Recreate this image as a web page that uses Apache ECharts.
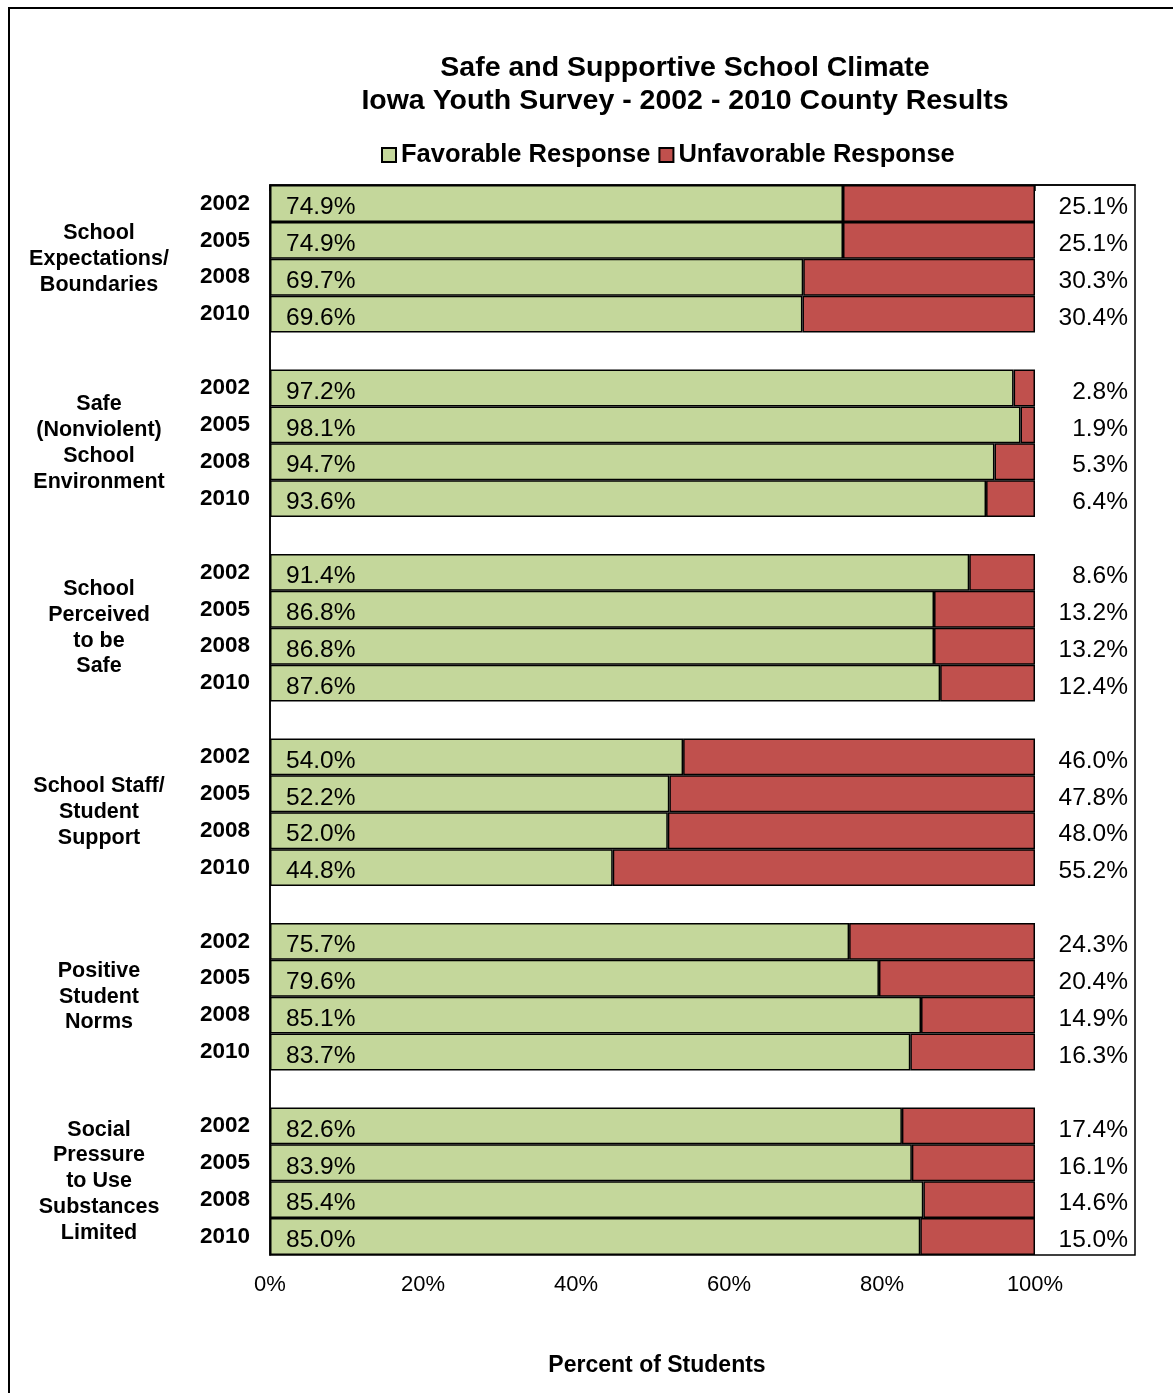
<!DOCTYPE html>
<html>
<head>
<meta charset="utf-8">
<script src="https://cdn.jsdelivr.net/npm/echarts@6/dist/echarts.min.js"></script>
<style>
  html, body { margin: 0; padding: 0; background: #fff; }
  #chart { position: absolute; left: 0; top: 0; width: 1173px; height: 1393px; }
  #frame { position: absolute; left: 8px; top: 7px; width: 1300px; height: 1500px;
           border-left: 2px solid #000; border-top: 2px solid #000; pointer-events: none; }
</style>
</head>
<body>
<div id="chart"></div>
<div id="frame"></div>
<script>
const groups = [
  'School\nExpectations/\nBoundaries',
  'Safe\n(Nonviolent)\nSchool\nEnvironment',
  'School\nPerceived\nto be\nSafe',
  'School Staff/\nStudent\nSupport',
  'Positive\nStudent\nNorms',
  'Social\nPressure\nto Use\nSubstances\nLimited'
];
const years = ['2002', '2005', '2008', '2010'];
const favorable = [
  [74.9, 74.9, 69.7, 69.6],
  [97.2, 98.1, 94.7, 93.6],
  [91.4, 86.8, 86.8, 87.6],
  [54.0, 52.2, 52.0, 44.8],
  [75.7, 79.6, 85.1, 83.7],
  [82.6, 83.9, 85.4, 85.0]
];
const unfavorable = [
  [25.1, 25.1, 30.3, 30.4],
  [2.8, 1.9, 5.3, 6.4],
  [8.6, 13.2, 13.2, 12.4],
  [46.0, 47.8, 48.0, 55.2],
  [24.3, 20.4, 14.9, 16.3],
  [17.4, 16.1, 14.6, 15.0]
];
const xTicks = [0, 20, 40, 60, 80, 100];

// Build rows (with an empty gap row between groups)
const rows = [], favData = [], unfData = [];
groups.forEach((g, gi) => {
  years.forEach((y, yi) => {
    rows.push(gi + '|' + y);
    favData.push(favorable[gi][yi]);
    unfData.push(unfavorable[gi][yi]);
  });
  if (gi < groups.length - 1) {
    rows.push('gap' + gi);
    favData.push('-');
    unfData.push('-');
  }
});
const nRows = rows.length;
const perGroup = years.length + 1;

const font = '"Liberation Sans", Arial, sans-serif';
const chart = echarts.init(document.getElementById('chart'));
chart.setOption({
  animation: false,
  backgroundColor: '#fff',
  textStyle: { fontFamily: font, color: '#000' },
  title: [
    {
      text: 'Safe and Supportive School Climate\nIowa Youth Survey - 2002 - 2010 County Results',
      left: 680, top: 47, textAlign: 'center',
      textStyle: { fontSize: 28.5, fontWeight: 'bold', lineHeight: 33, color: '#000', fontFamily: font }
    },
    {
      text: 'Percent of Students',
      left: 652, top: 1349, textAlign: 'center',
      textStyle: { fontSize: 23, fontWeight: 'bold', color: '#000', fontFamily: font }
    }
  ],
  legend: {
    top: 137, left: 376,
    itemWidth: 14, itemHeight: 14, itemGap: 8,
    icon: 'rect',
    textStyle: { fontSize: 25.5, fontWeight: 'bold', color: '#000', fontFamily: font },
    data: ['Favorable Response', 'Unfavorable Response']
  },
  grid: {
    left: 270, right: 38, top: 185, bottom: 138,
    show: true, borderColor: '#000', borderWidth: 1.5, backgroundColor: 'transparent'
  },
  xAxis: {
    type: 'value', min: 0, max: 113.07,
    axisLine: { show: true, lineStyle: { color: '#000', width: 1.5 } },
    axisTick: { show: true, length: 6, customValues: xTicks, lineStyle: { color: '#000', width: 1.5 } },
    splitLine: { show: false },
    axisLabel: {
      customValues: xTicks, margin: 19, fontSize: 22, color: '#000', fontFamily: font,
      formatter: v => v + '%'
    }
  },
  yAxis: [
    {
      type: 'category', inverse: true, data: rows,
      axisLine: { show: true, lineStyle: { color: '#000', width: 1.5 } },
      axisTick: { show: false },
      axisLabel: {
        margin: 20, fontSize: 22.5, fontWeight: 'bold', color: '#000', fontFamily: font,
        interval: 0, padding: [0, 0, 1, 0],
        formatter: v => v.startsWith('gap') ? '' : v.split('|')[1]
      }
    },
    {
      type: 'value', inverse: true, min: 0, max: nRows, interval: 1, position: 'left',
      axisLine: { show: false }, axisTick: { show: false }, splitLine: { show: false },
      axisLabel: {
        margin: 171, align: 'center', fontSize: 21.5, fontWeight: 'bold', lineHeight: 25.8,
        color: '#000', fontFamily: font, showMinLabel: true, showMaxLabel: true,
        formatter: v => {
          const r = Math.round(v);
          if (r % perGroup === 2) {
            const gi = (r - 2) / perGroup;
            return groups[gi] || '';
          }
          return '';
        }
      }
    }
  ],
  series: [
    {
      name: 'Favorable Response', type: 'bar', stack: 'total', yAxisIndex: 0,
      barCategoryGap: '0%', data: favData,
      itemStyle: { color: '#C4D79B', borderColor: '#000', borderWidth: 1.5 },
      label: {
        show: true, position: 'insideLeft', distance: 16, fontSize: 24.5, color: '#000',
        fontFamily: font, offset: [0, 4], formatter: p => p.value.toFixed(1) + '%'
      }
    },
    {
      name: 'Unfavorable Response', type: 'bar', stack: 'total', yAxisIndex: 0,
      barCategoryGap: '0%', data: unfData,
      itemStyle: { color: '#C0504D', borderColor: '#000', borderWidth: 1.5 },
      label: {
        show: true, position: 'right', distance: 93, align: 'right', fontSize: 24.5, color: '#000',
        fontFamily: font, offset: [0, 4], formatter: p => p.value.toFixed(1) + '%'
      }
    }
  ]
});
</script>
</body>
</html>
